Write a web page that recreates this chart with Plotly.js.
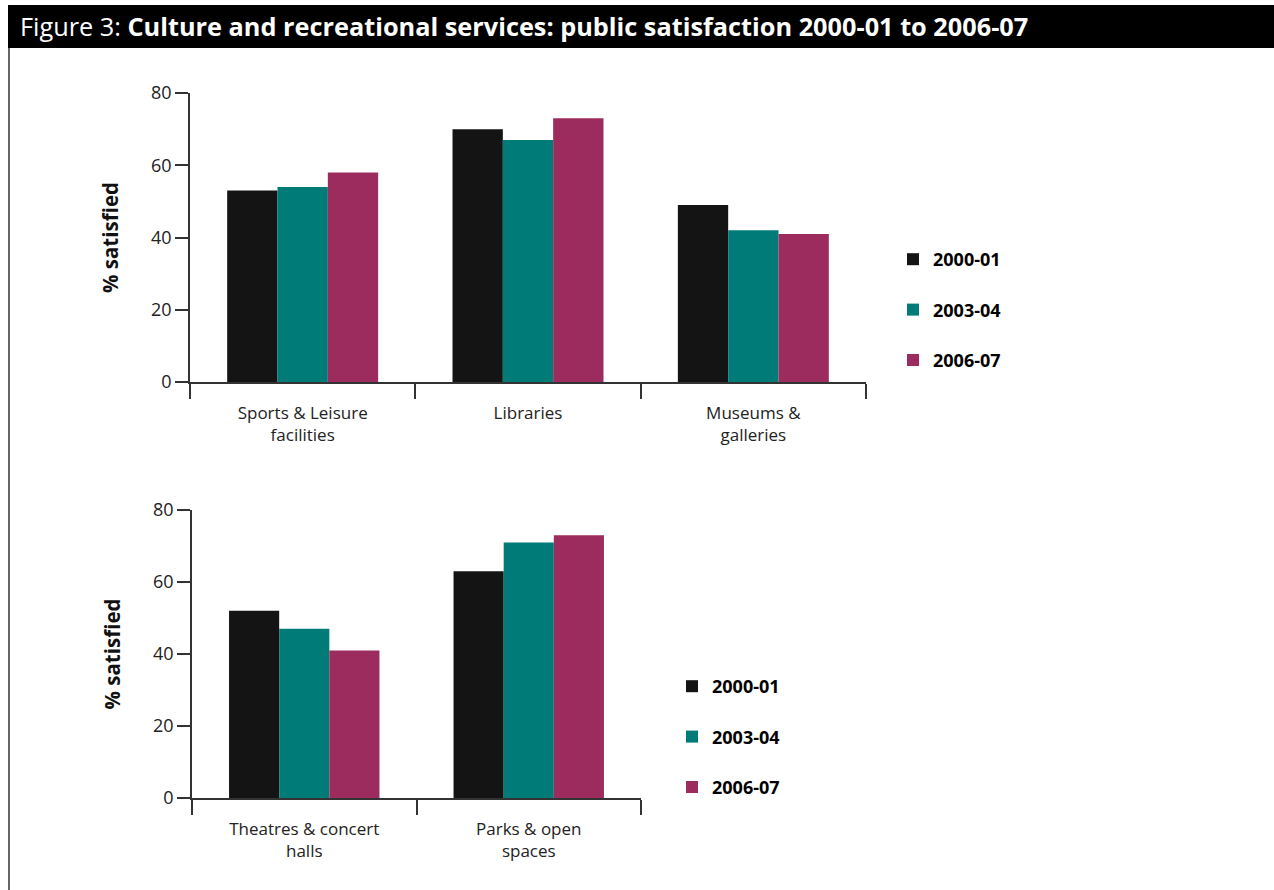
<!DOCTYPE html>
<html>
<head>
<meta charset="utf-8">
<script src="https://cdn.plot.ly/plotly-3.0.1.min.js"></script>
<style>html,body{margin:0;padding:0;background:#fff}#chart{width:1274px;height:890px}</style>
</head>
<body>
<div id="chart"></div>
<script>
const seriesNames = ["2000-01", "2003-04", "2006-07"];
const seriesColors = ["#141414", "#007B78", "#9B2C5D"];

const topCategories = ["Sports & Leisure<br>facilities", "Libraries", "Museums &<br>galleries"];
const top2000 = [53, 70, 49];
const top2003 = [54, 67, 42];
const top2006 = [58, 73, 41];

const bottomCategories = ["Theatres & concert<br>halls", "Parks & open<br>spaces"];
const bottom2000 = [52, 63];
const bottom2003 = [47, 71];
const bottom2006 = [41, 73];

const yTicks = [0, 20, 40, 60, 80];

const FONT = "Open Sans, Noto Sans, sans-serif";
const W = 1274, H = 890;
const px = v => v / W;
const py = v => (H - v) / H;

const topSeries = [top2000, top2003, top2006];
const bottomSeries = [bottom2000, bottom2003, bottom2006];

const traces = [];
topSeries.forEach((vals, i) => {
  traces.push({
    type: "bar", x: topCategories, y: vals, name: seriesNames[i],
    marker: {color: seriesColors[i], line: {width: 0}},
    xaxis: "x", yaxis: "y", legend: "legend", legendgroup: "t" + i,
    hoverinfo: "y+name"
  });
});
bottomSeries.forEach((vals, i) => {
  traces.push({
    type: "bar", x: bottomCategories, y: vals, name: seriesNames[i],
    marker: {color: seriesColors[i], line: {width: 0}},
    xaxis: "x2", yaxis: "y2", legend: "legend2", legendgroup: "b" + i,
    hoverinfo: "y+name"
  });
});

const xBase = {
  type: "category", showline: true, linecolor: "#333", linewidth: 1.5,
  ticks: "outside", ticklen: 15, tickwidth: 1.5, tickcolor: "#333",
  tickson: "boundaries", showgrid: false, zeroline: false,
  ticklabelstandoff: 15,
  tickfont: {family: FONT, size: 17, color: "#222"}, fixedrange: true
};
const yBase = {
  range: [0, 80], tickvals: yTicks, showline: true, linecolor: "#333", linewidth: 1.5,
  ticks: "outside", ticklen: 13, tickwidth: 1.5, tickcolor: "#333",
  showgrid: false, zeroline: false,
  tickfont: {family: FONT, size: 18, color: "#222"},
  title: {text: "<b>% satisfied</b>", font: {family: FONT, size: 20.5, color: "#111"}, standoff: 27},
  fixedrange: true
};

const legendBase = {
  font: {family: FONT, size: 18, color: "#000", weight: "bold"},
  bgcolor: "rgba(0,0,0,0)", borderwidth: 0, tracegroupgap: 24,
  traceorder: "grouped", xanchor: "left", yanchor: "top"
};

const layout = {
  width: W, height: H,
  margin: {l: 0, r: 0, t: 0, b: 0},
  paper_bgcolor: "#fff", plot_bgcolor: "rgba(0,0,0,0)",
  barmode: "group", bargap: 0.33, bargroupgap: 0,
  title: {
    text: "Figure 3: <b>Culture and recreational services: public satisfaction 2000-01 to 2006-07</b>",
    font: {family: FONT, size: 25.3, color: "#fff"},
    x: px(20), xanchor: "left", xref: "paper",
    y: 1 - 27 / H, yanchor: "middle", yref: "container"
  },
  xaxis: Object.assign({}, xBase, {domain: [px(190), px(866)], anchor: "y", range: [-0.5, 2.5]}),
  yaxis: Object.assign({}, yBase, {domain: [py(382), py(93)], anchor: "x"}),
  xaxis2: Object.assign({}, xBase, {domain: [px(192), px(641)], anchor: "y2", range: [-0.5, 1.5]}),
  yaxis2: Object.assign({}, yBase, {domain: [py(798), py(510)], anchor: "x2"}),
  legend: Object.assign({}, legendBase, {x: px(893), y: py(241)}),
  legend2: Object.assign({}, legendBase, {x: px(672), y: py(668)}),
  shapes: [
    {type: "rect", xref: "paper", yref: "paper", x0: px(8), x1: 1, y0: py(48), y1: py(5),
     fillcolor: "#000", line: {width: 0}, layer: "below"},
    {type: "line", xref: "paper", yref: "paper", x0: px(9), x1: px(9), y0: 0, y1: py(48),
     line: {color: "#333", width: 1.5}}
  ],
  showlegend: true
};

Plotly.newPlot("chart", traces, layout, {displayModeBar: false, responsive: false});
</script>
</body>
</html>
